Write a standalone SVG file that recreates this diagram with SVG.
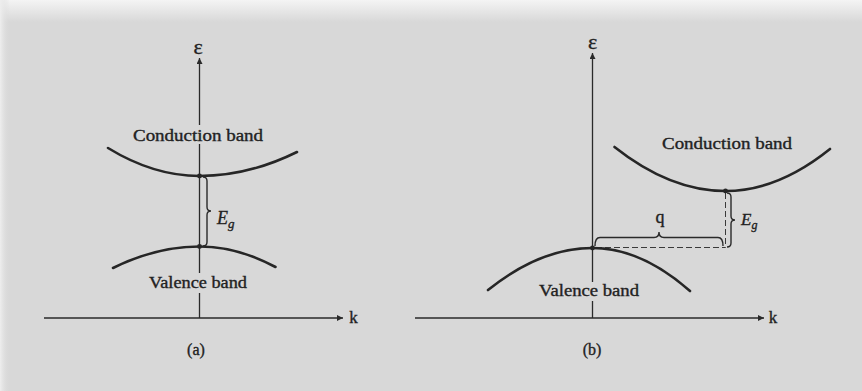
<svg xmlns="http://www.w3.org/2000/svg" width="862" height="391" viewBox="0 0 862 391">
  <style>
    .axis { stroke: #2a2a2a; stroke-width: 1.3; fill: none; }
    .band { stroke: #262626; stroke-width: 2.6; fill: none; stroke-linecap: round; }
    .brace { stroke: #2a2a2a; stroke-width: 1.4; fill: none; }
    .dash { stroke: #3a3a3a; stroke-width: 1; fill: none; stroke-dasharray: 6 3; }
    .lbl { font-family: "Liberation Serif", "Times New Roman", serif; fill: #222222; stroke: #222222; stroke-width: 0.35; }
    .band-lbl { font-size: 16px; }
    .it { font-style: italic; }
    .dot { fill: #262626; }
  </style>
  <defs>
    <linearGradient id="topfade" x1="0" y1="0" x2="0" y2="1">
      <stop offset="0" stop-color="#f4f4f4"/>
      <stop offset="1" stop-color="#d8d8d8"/>
    </linearGradient>
    <linearGradient id="leftfade" x1="0" y1="0" x2="1" y2="0">
      <stop offset="0" stop-color="#eeeeee"/>
      <stop offset="1" stop-color="#d8d8d8" stop-opacity="0"/>
    </linearGradient>
    <marker id="arr" viewBox="0 0 10 10" refX="10" refY="5" markerWidth="8" markerHeight="6" markerUnits="userSpaceOnUse" orient="auto">
      <path d="M0,0 L10,5 L0,10 z" fill="#2a2a2a"/>
    </marker>
  </defs>

  <g id="background">
    <rect x="0" y="0" width="862" height="391" fill="#d8d8d8"/>
    <rect x="0" y="0" width="862" height="22" fill="url(#topfade)"/>
    <rect x="0" y="0" width="10" height="391" fill="url(#leftfade)"/>
  </g>

  <g id="connectors">
    <!-- panel (a) axes -->
    <line class="axis" x1="199.5" y1="125" x2="199.5" y2="58" marker-end="url(#arr)"/>
    <line class="axis" x1="199.5" y1="144" x2="199.5" y2="273"/>
    <line class="axis" x1="199.5" y1="293" x2="199.5" y2="318"/>
    <line class="axis" x1="44" y1="318" x2="343" y2="318" marker-end="url(#arr)"/>
    <!-- panel (b) axes -->
    <line class="axis" x1="592.5" y1="282" x2="592.5" y2="53" marker-end="url(#arr)"/>
    <line class="axis" x1="592.5" y1="301" x2="592.5" y2="318"/>
    <line class="axis" x1="415" y1="318" x2="764" y2="318" marker-end="url(#arr)"/>
    <!-- panel (b) dashed guides -->
    <line class="dash" x1="725.5" y1="193" x2="725.5" y2="247.5"/>
    <line class="dash" x1="596" y1="247.5" x2="725.5" y2="247.5"/>
  </g>

  <g id="panel-a-conduction">
    <path class="band" d="M108,148 Q153.75,176 199.5,176 Q248.25,176 297,152"/>
    <circle class="dot" cx="199.5" cy="176" r="2.4"/>
    <text class="lbl band-lbl" x="198" y="141" text-anchor="middle" textLength="130" lengthAdjust="spacingAndGlyphs">Conduction band</text>
  </g>

  <g id="panel-a-valence">
    <path class="band" d="M113,268 Q156.25,246.5 199.5,246.5 Q237.5,246.5 275.5,267"/>
    <circle class="dot" cx="199.5" cy="246.5" r="2.4"/>
    <text class="lbl band-lbl" x="198" y="288" text-anchor="middle" textLength="98" lengthAdjust="spacingAndGlyphs">Valence band</text>
  </g>

  <g id="panel-a-gap">
    <path class="brace" d="M203,177 Q207,177 207,181 L207,207 Q207,211 211,211 Q207,211 207,215 L207,242 Q207,246 203,246"/>
    <text class="lbl it" x="217" y="224" font-size="18">E<tspan font-size="13" dy="4">g</tspan></text>
  </g>

  <g id="panel-a-labels">
    <text class="lbl" x="198" y="54" font-size="22" text-anchor="middle">ε</text>
    <text class="lbl" x="353.5" y="323" font-size="17" text-anchor="middle">k</text>
    <text class="lbl" x="196" y="355" font-size="16" text-anchor="middle">(a)</text>
  </g>

  <g id="panel-b-conduction">
    <path class="band" d="M614.5,147 Q670,191 725.5,191 Q777.75,191 830,149"/>
    <circle class="dot" cx="725.5" cy="191" r="2.4"/>
    <text class="lbl band-lbl" x="727" y="149" text-anchor="middle" textLength="130" lengthAdjust="spacingAndGlyphs">Conduction band</text>
  </g>

  <g id="panel-b-valence">
    <path class="band" d="M488,290 Q540.25,248 592.5,248 Q641.25,248 690,291"/>
    <circle class="dot" cx="592.5" cy="248" r="2.4"/>
    <text class="lbl band-lbl" x="589" y="296" text-anchor="middle" textLength="100" lengthAdjust="spacingAndGlyphs">Valence band</text>
  </g>

  <g id="panel-b-q">
    <path class="brace" d="M595,246 Q595,237.5 600,237.5 L654,237.5 Q659,237.5 659,232 Q659,237.5 664,237.5 L718,237.5 Q723,237.5 723,246"/>
    <text class="lbl" x="660" y="223" font-size="18" text-anchor="middle">q</text>
  </g>

  <g id="panel-b-gap">
    <path class="brace" d="M727,193 Q731,193 731,197 L731,216 Q731,220 735,220 Q731,220 731,224 L731,243 Q731,247 727,247"/>
    <text class="lbl it" x="741" y="225" font-size="17">E<tspan font-size="12" dy="4">g</tspan></text>
  </g>

  <g id="panel-b-labels">
    <text class="lbl" x="592.5" y="49" font-size="22" text-anchor="middle">ε</text>
    <text class="lbl" x="773" y="323" font-size="17" text-anchor="middle">k</text>
    <text class="lbl" x="592" y="355" font-size="16" text-anchor="middle">(b)</text>
  </g>
</svg>
